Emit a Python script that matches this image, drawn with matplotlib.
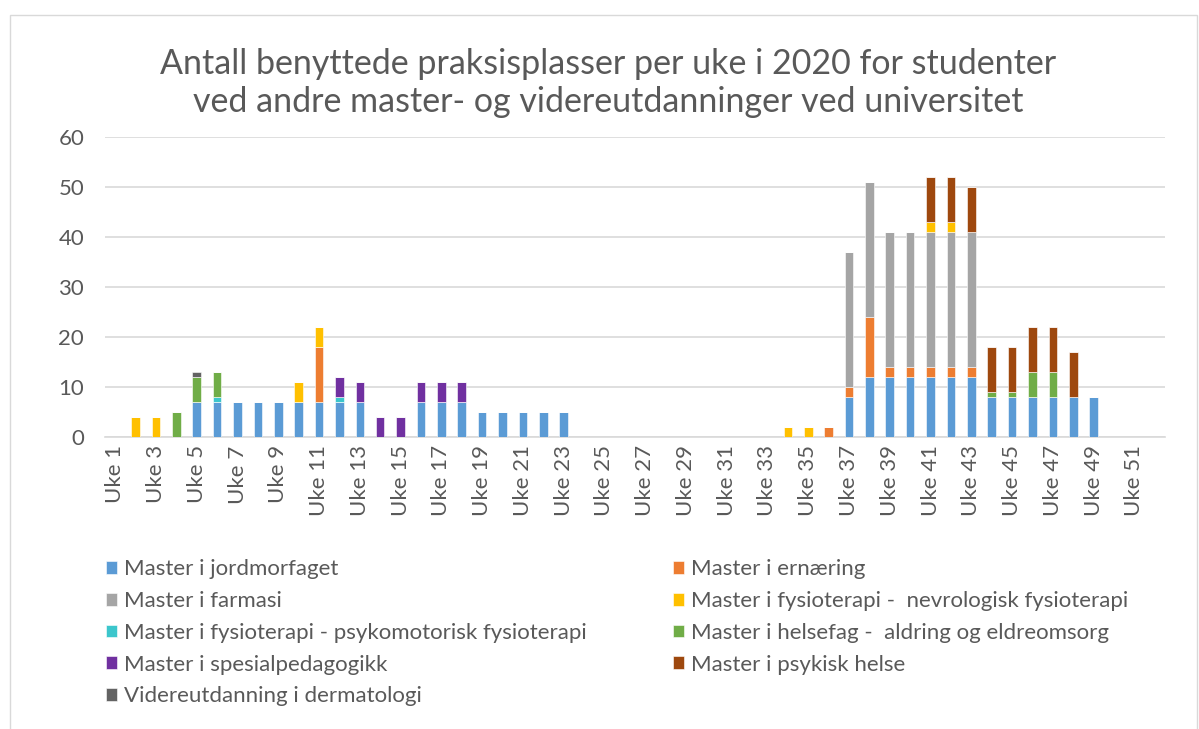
import numpy as np
import matplotlib.pyplot as plt
from matplotlib.patches import Rectangle

plt.rcParams['font.family'] = ['Lato', 'DejaVu Sans']

weeks = [f'Uke {i}' for i in range(1, 53)]

series_names = [
    'Master i jordmorfaget',
    'Master i ernæring',
    'Master i farmasi',
    'Master i fysioterapi -  nevrologisk fysioterapi',
    'Master i fysioterapi - psykomotorisk fysioterapi',
    'Master i helsefag -  aldring og eldreomsorg',
    'Master i spesialpedagogikk',
    'Master i psykisk helse',
    'Videreutdanning i dermatologi',
]
colors = ['#5B9BD5', '#ED7D31', '#A5A5A5', '#FFC000', '#3CC6CC',
          '#70AD47', '#7030A0', '#9E480E', '#636363']

# values per week, keyed by week number (missing = 0)
jordmor = {5: 7, 6: 7, 7: 7, 8: 7, 9: 7, 10: 7, 11: 7, 12: 7, 13: 7,
           16: 7, 17: 7, 18: 7, 19: 5, 20: 5, 21: 5, 22: 5, 23: 5,
           37: 8, 38: 12, 39: 12, 40: 12, 41: 12, 42: 12, 43: 12,
           44: 8, 45: 8, 46: 8, 47: 8, 48: 8, 49: 8}
ernaering = {11: 11, 36: 2, 37: 2, 38: 12, 39: 2, 40: 2, 41: 2, 42: 2, 43: 2}
farmasi = {37: 27, 38: 27, 39: 27, 40: 27, 41: 27, 42: 27, 43: 27}
fysio_nevro = {2: 4, 3: 4, 10: 4, 11: 4, 34: 2, 35: 2, 41: 2, 42: 2}
fysio_psyko = {6: 1, 12: 1}
helsefag = {4: 5, 5: 5, 6: 5, 44: 1, 45: 1, 46: 5, 47: 5}
spesialped = {12: 4, 13: 4, 14: 4, 15: 4, 16: 4, 17: 4, 18: 4}
psykisk = {41: 9, 42: 9, 43: 9, 44: 9, 45: 9, 46: 9, 47: 9, 48: 9}
dermatologi = {5: 1}

series = [jordmor, ernaering, farmasi, fysio_nevro, fysio_psyko,
          helsefag, spesialped, psykisk, dermatologi]

x = np.arange(len(weeks))
fig = plt.figure(figsize=(11.99, 7.29), dpi=100)
ax = fig.add_axes([0.0876, 0.4005, 0.884, 0.4115])

bottom = np.zeros(len(weeks))
handles = []
for name, data, c in zip(series_names, series, colors):
    vals = np.array([data.get(i + 1, 0) for i in range(len(weeks))], dtype=float)
    h = ax.bar(x, vals, 0.42, bottom=bottom, color=c, label=name,
               edgecolor='white', linewidth=0.4, zorder=3)
    handles.append(h)
    bottom += vals

ax.set_xlim(-0.5, len(weeks) - 0.5)
ax.set_ylim(0, 60)
ax.set_yticks(range(0, 61, 10))
ax.set_xticks(x[::2])
ax.set_xticklabels(weeks[::2], rotation=90)
ax.tick_params(axis='both', length=0, labelsize=16, colors='#595959')
ax.tick_params(axis='y', pad=15)
ax.tick_params(axis='x', pad=6)
ax.grid(axis='y', color='#D9D9D9', linewidth=1.2, zorder=0)
for s in ax.spines.values():
    s.set_visible(False)
ax.spines['bottom'].set_visible(True)
ax.spines['bottom'].set_color('#D9D9D9')
ax.spines['bottom'].set_linewidth(1.2)

fig.text(0.507, 0.8862, 'Antall benyttede praksisplasser per uke i 2020 for studenter\n'
         'ved andre master- og videreutdanninger ved universitet',
         ha='center', va='center', fontsize=24.5, color='#595959', linespacing=1.23)

# legend filled row by row, like the original
order = [0, 2, 4, 6, 8, 1, 3, 5, 7]
fig.legend(handles=[handles[i] for i in order],
           labels=[series_names[i] for i in order],
           loc='upper left', bbox_to_anchor=(0.081, 0.245),
           ncol=2, frameon=False, fontsize=16, labelcolor='#595959',
           handlelength=0.5, handleheight=0.5, handletextpad=0.3,
           columnspacing=3.9, labelspacing=0.53, borderaxespad=0)

fig.patches.append(Rectangle((0.008, -0.01), 0.99, 0.99, transform=fig.transFigure,
                             fill=False, edgecolor='#D9D9D9', linewidth=1))

fig.savefig('out.png', dpi=100)
